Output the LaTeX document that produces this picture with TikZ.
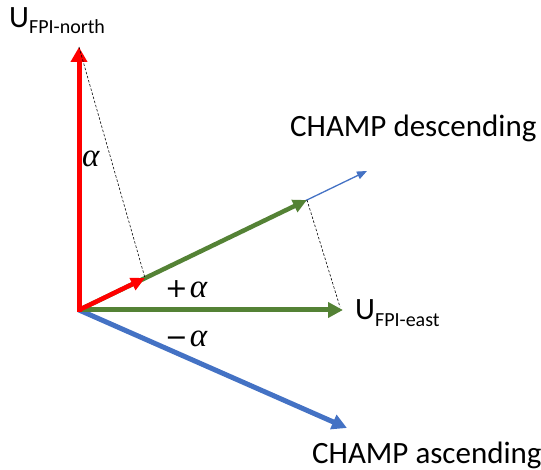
\documentclass[tikz,border=0pt]{standalone}
\usepackage{fontspec}
\setmainfont{Carlito}
\newfontfamily\symfont{Liberation Serif}
\newfontfamily\opfont{DejaVu Sans}
\usetikzlibrary{arrows.meta}
\definecolor{cred}{HTML}{FF0000}
\definecolor{cgreen}{HTML}{548235}
\definecolor{cblue}{HTML}{4472C4}
\newcommand{\myalpha}{{\symfont\itshape α}}
\newcommand{\myop}[1]{{\opfont\fontsize{27}{32}\selectfont #1}\kern2pt}
\begin{document}
\begin{tikzpicture}[x=1pt,y=-1pt,
  thickvec/.style={line width=5pt,-{Triangle[length=15pt,width=15pt]}},
  midvec/.style={line width=4.5pt,-{Triangle[length=14pt,width=13pt]}},
  thinvec/.style={line width=1.3pt,-{Triangle[length=10pt,width=8pt]}},
  proj/.style={dash pattern=on 2.5pt off 1.8pt,line width=0.6pt,black},
  lbl/.style={inner sep=0pt,anchor=base west,font=\fontsize{31}{37}\selectfont},
  mlbl/.style={inner sep=0pt,anchor=base west,font=\fontsize{33}{40}\selectfont}]
\useasboundingbox (0,0) rectangle (541,470);
\coordinate (O) at (79,310);
\coordinate (N) at (79,47);
\coordinate (E) at (343,310);
\coordinate (G) at (307,200);
\coordinate (D) at (367,171);
\coordinate (R) at (145,278);
\coordinate (A) at (347,428);
\coordinate (Gp) at (340,307);
% vectors
\draw[thinvec,cblue] (O) -- (D);
\draw[thickvec,cblue] (O) -- (A);
\draw[thickvec,cgreen] (O) -- (E);
\draw[midvec,cgreen] (O) -- (G);
\draw[midvec,cred] (O) -- (R);
\draw[thickvec,cred,-{Triangle[length=15pt,width=16pt]}] (79,312.5) -- (N);
% projections
\draw[proj] (N) -- (R);
\draw[proj] (G) -- (Gp);
% labels
\node[lbl] (ln) at (9,28) {U\raisebox{-6pt}{\fontsize{20}{24}\selectfont FPI-north}};
\node[lbl] (le) at (355,320) {U\raisebox{-7pt}{\fontsize{20}{24}\selectfont FPI-east}};
\node[lbl] (ld) at (290,137) {CHAMP descending};
\node[lbl] (la) at (312,463) {CHAMP ascending};
\node[mlbl] (a1) at (82,167) {\myalpha};
\node[mlbl] (a2) at (165,298) {\myop{+}\myalpha};
\node[mlbl] (a3) at (165,347) {\myop{−}\myalpha};
\end{tikzpicture}
\end{document}
